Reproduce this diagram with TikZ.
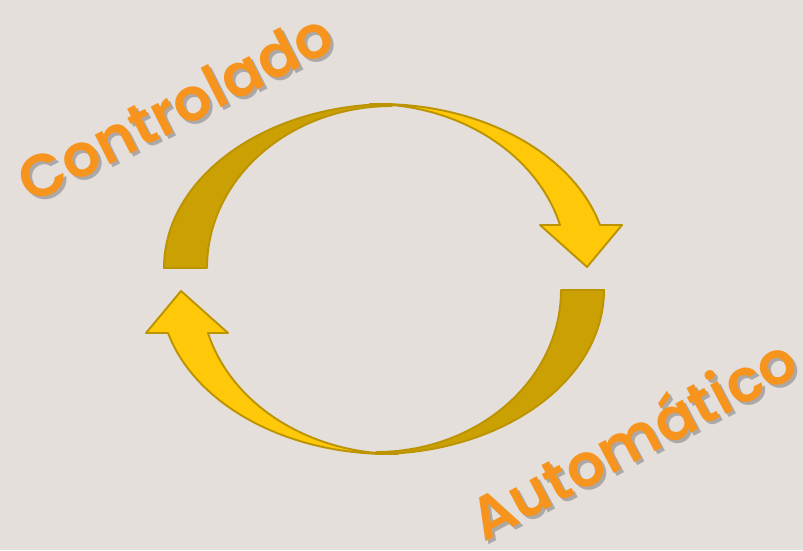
\documentclass[tikz,border=0pt]{standalone}
\usepackage{fontspec}
\setmainfont{Poppins}[BoldFont={Poppins SemiBold}]
\usepackage{xcolor}
\usepackage{tikz}
\definecolor{bgpaper}{HTML}{E5DFDC}
\definecolor{golddark}{HTML}{CBA003}
\definecolor{goldlight}{HTML}{FFC808}
\definecolor{goldedge}{HTML}{BC9300}
\definecolor{labelorange}{HTML}{F7941D}
\tikzset{
  backhalf/.style={fill=golddark, draw=goldedge, line width=1.1pt, line join=round},
  fronthalf/.style={fill=goldlight, draw=goldedge, line width=1.1pt, line join=round},
  wordlabel/.style={font=\fontsize{34}{40}\selectfont\bfseries, text=labelorange, inner sep=0pt},
  wordshadow/.style={wordlabel, text=black!55, opacity=0.5}
}

\begin{document}
\begin{tikzpicture}[x=0.02cm, y=0.02cm]
    \fill[bgpaper] (0,0) rectangle (803,550);
    \useasboundingbox (0,0) rectangle (803,550);
    % the two halves of the cycle, second one turned half way round
    \foreach \turn in {0,180} {
      \begin{scope}[rotate around={\turn:(384,271)}]
        \draw[backhalf] (164,282) arc[start angle=180, end angle=90, x radius=228, y radius=164]
          -- (392,444) arc[start angle=90, end angle=180, x radius=185, y radius=162] -- cycle;
        \draw[fronthalf] (379,446) arc[start angle=90, end angle=15.2, x radius=229, y radius=164]
          -- (622,325) -- (587,283) -- (540,325) -- (560,325)
          arc[start angle=15.2, end angle=90, x radius=197, y radius=164] -- cycle;
      \end{scope}
    }
    \node[wordshadow, rotate=27] (ctrlshadow) at (178,440) {Controlado};
    \node[wordlabel, rotate=27] (ctrl) at (175,443) {Controlado};
    \node[wordshadow, rotate=28] (autoshadow) at (635,110) {Automático};
    \node[wordlabel, rotate=28] (auto) at (632,113) {Automático};
\end{tikzpicture}
\end{document}
